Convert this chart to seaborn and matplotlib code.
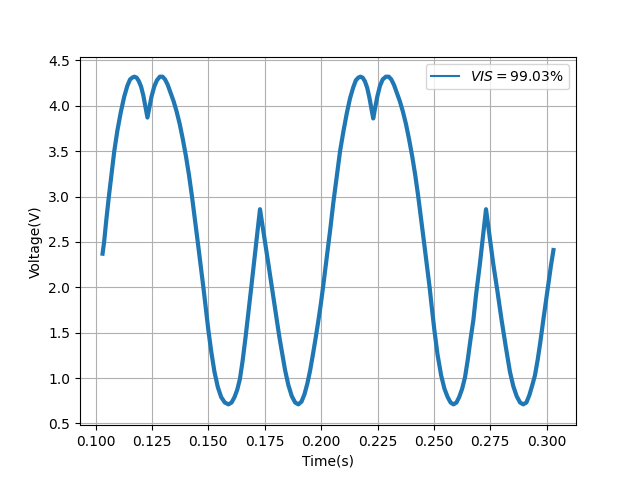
import matplotlib
matplotlib.use("Agg")
import matplotlib.pyplot as plt
import seaborn as sns

# One line per stretch of the trace so the two lists stay aligned.
time_s = (
    [0.1031, 0.1038, 0.1048, 0.1059, 0.1071, 0.1083, 0.1097, 0.1112, 0.1127, 0.1141, 0.1153, 0.1163, 0.1172]
    + [0.1182, 0.1192, 0.1202, 0.1212, 0.1222, 0.1230, 0.1238, 0.1248, 0.1260, 0.1272, 0.1285, 0.1297]
    + [0.1308, 0.1320, 0.1333, 0.1346, 0.1359, 0.1373, 0.1387, 0.1401, 0.1414, 0.1427, 0.1440, 0.1452,
       0.1465, 0.1478, 0.1489, 0.1500, 0.1513, 0.1527, 0.1542, 0.1557, 0.1573, 0.1589]
    + [0.1603, 0.1616, 0.1628, 0.1640, 0.1652, 0.1665, 0.1677, 0.1689, 0.1700, 0.1715, 0.1729, 0.1742,
       0.1754, 0.1766, 0.1778, 0.1790, 0.1803, 0.1815, 0.1828, 0.1840, 0.1855, 0.1870, 0.1885, 0.1899]
    + [0.1913, 0.1926, 0.1939, 0.1951, 0.1963, 0.1975, 0.1987, 0.1999, 0.2010, 0.2021, 0.2031, 0.2042,
       0.2054, 0.2068, 0.2084, 0.2099, 0.2114, 0.2128, 0.2142, 0.2154, 0.2165, 0.2174]
    + [0.2184, 0.2194, 0.2204, 0.2214, 0.2223, 0.2231, 0.2239, 0.2249, 0.2261, 0.2273, 0.2287, 0.2300]
    + [0.2311, 0.2323, 0.2336, 0.2349, 0.2362, 0.2376, 0.2390, 0.2404, 0.2417, 0.2430, 0.2443, 0.2455,
       0.2468, 0.2481, 0.2491, 0.2502, 0.2516, 0.2532, 0.2547, 0.2561, 0.2574, 0.2587]
    + [0.2600, 0.2612, 0.2625, 0.2638, 0.2650, 0.2662, 0.2675, 0.2687, 0.2704, 0.2718, 0.2731, 0.2747,
       0.2763, 0.2782, 0.2800, 0.2819, 0.2837, 0.2852, 0.2867, 0.2882, 0.2896]
    + [0.2910, 0.2923, 0.2936, 0.2948, 0.2960, 0.2972, 0.2985, 0.2997, 0.3008, 0.3019, 0.3030]
)
voltage_v = (
    [2.37, 2.50, 2.75, 3.00, 3.25, 3.50, 3.73, 3.93, 4.10, 4.22, 4.29, 4.31, 4.32]
    + [4.31, 4.27, 4.21, 4.11, 3.98, 3.87, 3.97, 4.10, 4.21, 4.28, 4.32, 4.32]
    + [4.29, 4.23, 4.14, 4.05, 3.94, 3.80, 3.63, 3.44, 3.24, 3.01, 2.76, 2.52,
       2.26, 2.00, 1.76, 1.53, 1.29, 1.07, 0.90, 0.79, 0.73, 0.71]
    + [0.73, 0.79, 0.87, 0.99, 1.19, 1.45, 1.71, 1.97, 2.22, 2.55, 2.86, 2.65,
       2.45, 2.26, 2.06, 1.86, 1.64, 1.45, 1.26, 1.09, 0.92, 0.80, 0.73, 0.71]
    + [0.74, 0.82, 0.94, 1.08, 1.25, 1.43, 1.62, 1.82, 2.03, 2.25, 2.45, 2.67,
       2.93, 3.20, 3.50, 3.72, 3.92, 4.08, 4.20, 4.28, 4.31, 4.32]
    + [4.31, 4.27, 4.20, 4.09, 3.97, 3.86, 3.97, 4.10, 4.22, 4.29, 4.32, 4.32]
    + [4.29, 4.23, 4.14, 4.05, 3.94, 3.80, 3.63, 3.44, 3.24, 3.01, 2.76, 2.52,
       2.26, 2.00, 1.77, 1.53, 1.26, 1.03, 0.88, 0.79, 0.73, 0.71]
    + [0.73, 0.79, 0.88, 1.01, 1.20, 1.42, 1.64, 1.92, 2.26, 2.57, 2.86, 2.56,
       2.26, 1.95, 1.64, 1.34, 1.07, 0.91, 0.80, 0.73, 0.71]
    + [0.73, 0.81, 0.92, 1.03, 1.20, 1.40, 1.64, 1.85, 2.05, 2.24, 2.41]
)
assert len(time_s) == len(voltage_v)

legend_label = r"$VIS=99.03\%$"

fig, ax = plt.subplots(figsize=(6.4, 4.78), dpi=100)

sns.lineplot(x=time_s, y=voltage_v, ax=ax, color="#1f77b4", linewidth=3.0,
             sort=False, estimator=None, label=legend_label)

ax.set_ylim(0.478, 4.533)
ax.set_xlabel("Time(s)")
ax.set_ylabel("Voltage(V)")
ax.grid(True)

leg = ax.legend(loc="upper right")
for line in leg.get_lines():
    line.set_linewidth(1.5)

fig.savefig("out.png", dpi=100)
